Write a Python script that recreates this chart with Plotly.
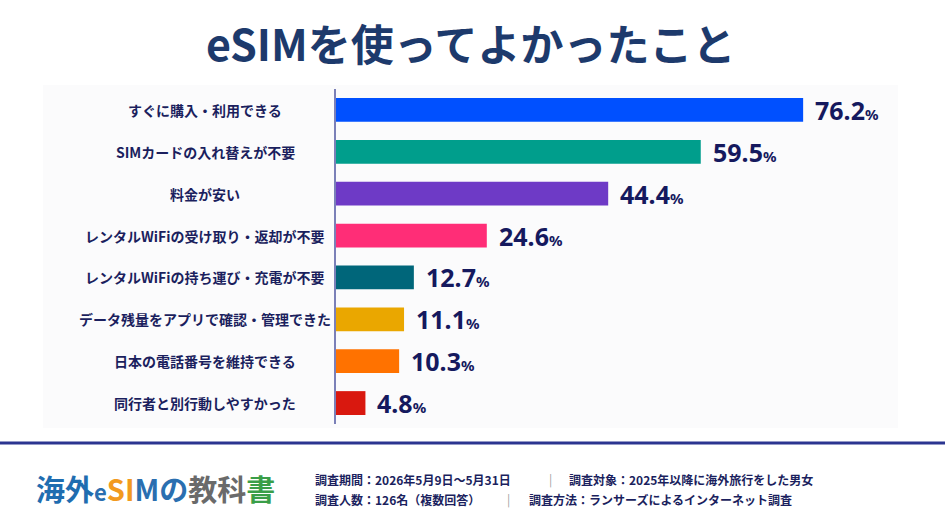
import plotly.graph_objects as go

categories = [
    "すぐに購入・利用できる",
    "SIMカードの入れ替えが不要",
    "料金が安い",
    "レンタルWiFiの受け取り・返却が不要",
    "レンタルWiFiの持ち運び・充電が不要",
    "データ残量をアプリで確認・管理できた",
    "日本の電話番号を維持できる",
    "同行者と別行動しやすかった",
]
values = [76.2, 59.5, 44.4, 24.6, 12.7, 11.1, 10.3, 4.8]
bar_colors = ["#0050ff", "#009e8c", "#6e3ac6", "#ff2d77", "#00667a", "#eaa700", "#ff7200", "#d9180f"]

title_text = "eSIMを使ってよかったこと"
survey_line1 = ["調査期間：2026年5月9日～5月31日", "調査対象：2025年以降に海外旅行をした男女"]
survey_line2 = ["調査人数：126名（複数回答）", "調査方法：ランサーズによるインターネット調査"]

W, H = 945, 532
NAVY = "#1b1f5e"
FONT = "Noto Sans CJK JP"


def px(x):
    return x / W


def py(y):
    return 1 - y / H


fig = go.Figure()
fig.add_trace(
    go.Bar(
        x=values,
        y=categories,
        orientation="h",
        marker=dict(color=bar_colors, line=dict(width=0)),
        hoverinfo="x+y",
    )
)

annotations = []
# category labels, centred in the left column
for cat in categories:
    annotations.append(dict(
        x=px(205), xref="paper", y=cat, yref="y", text=f"<b>{cat}</b>",
        showarrow=False, xanchor="center", yanchor="middle",
        font=dict(family=FONT, size=14, color=NAVY),
    ))
# value labels
for cat, v in zip(categories, values):
    annotations.append(dict(
        x=v, xref="x", y=cat, yref="y",
        text=f"<b>{v:.1f}</b><span style='font-size:15px'><b>%</b></span>",
        showarrow=False, xanchor="left", yanchor="middle", xshift=10, yshift=0,
        font=dict(family="Noto Sans", size=25, color="#15195e"),
    ))

# title
annotations.append(dict(
    x=px(471), xref="paper", y=py(42), yref="paper", text=f"<b>{title_text}</b>",
    showarrow=False, xanchor="center", yanchor="middle",
    font=dict(family=FONT, size=43, color="#1d3a6c"),
))

# logo text
logo = (
    "<span style='color:#1f6db0'>海外</span>"
    "<span style='color:#2a6fb0;font-size:22px'>e</span>"
    "<span style='color:#f29a1f'>SI</span>"
    "<span style='color:#2a6fb0'>Mの</span>"
    "<span style='color:#6a6a6a'>教科</span>"
    "<span style='color:#3a9e48'>書</span>"
)
annotations.append(dict(
    x=px(34), xref="paper", y=py(488), yref="paper", text=f"<b>{logo}</b>",
    showarrow=False, xanchor="left", yanchor="middle",
    font=dict(family=FONT, size=29),
))

# survey info
footer = [
    (survey_line1, 479, 550, 567),
    (survey_line2, 499, 508, 527),
]
for (left, right), y, sep_x, right_x in footer:
    annotations.append(dict(
        x=px(313), xref="paper", y=py(y), yref="paper", text=f"<b>{left}</b>",
        showarrow=False, xanchor="left", yanchor="middle",
        font=dict(family=FONT, size=12, color=NAVY),
    ))
    annotations.append(dict(
        x=px(sep_x), xref="paper", y=py(y), yref="paper", text="|",
        showarrow=False, xanchor="center", yanchor="middle",
        font=dict(family=FONT, size=12, color="#a0a0a0"),
    ))
    annotations.append(dict(
        x=px(right_x), xref="paper", y=py(y), yref="paper", text=f"<b>{right}</b>",
        showarrow=False, xanchor="left", yanchor="middle",
        font=dict(family=FONT, size=12, color=NAVY),
    ))

shapes = [
    # faint panel behind the chart
    dict(type="rect", xref="paper", yref="paper", x0=px(43), x1=px(898), y0=py(428), y1=py(85),
         fillcolor="#fbfbfc", line=dict(width=0), layer="below"),
    # divider above footer
    dict(type="line", xref="paper", yref="paper", x0=0, x1=1, y0=py(443), y1=py(443),
         line=dict(color="#2b3590", width=3)),
]

fig.update_layout(
    width=W,
    height=H,
    margin=dict(l=0, r=0, t=0, b=0),
    paper_bgcolor="white",
    plot_bgcolor="rgba(0,0,0,0)",
    showlegend=False,
    bargap=0.43,
    xaxis=dict(
        domain=[px(336), px(900)],
        range=[0, 92.0],
        visible=False,
        fixedrange=True,
    ),
    yaxis=dict(
        domain=[py(424), py(89)],
        categoryorder="array",
        categoryarray=categories,
        range=[7.5, -0.5],
        showticklabels=False,
        showline=True,
        linecolor="#7b80b8",
        linewidth=1.5,
        showgrid=False,
        zeroline=False,
        ticks="",
        fixedrange=True,
    ),
    annotations=annotations,
    shapes=shapes,
)

fig.write_html(
    "out.html",
    config={"displayModeBar": False},
    post_script="document.body.style.margin='0';",
)
